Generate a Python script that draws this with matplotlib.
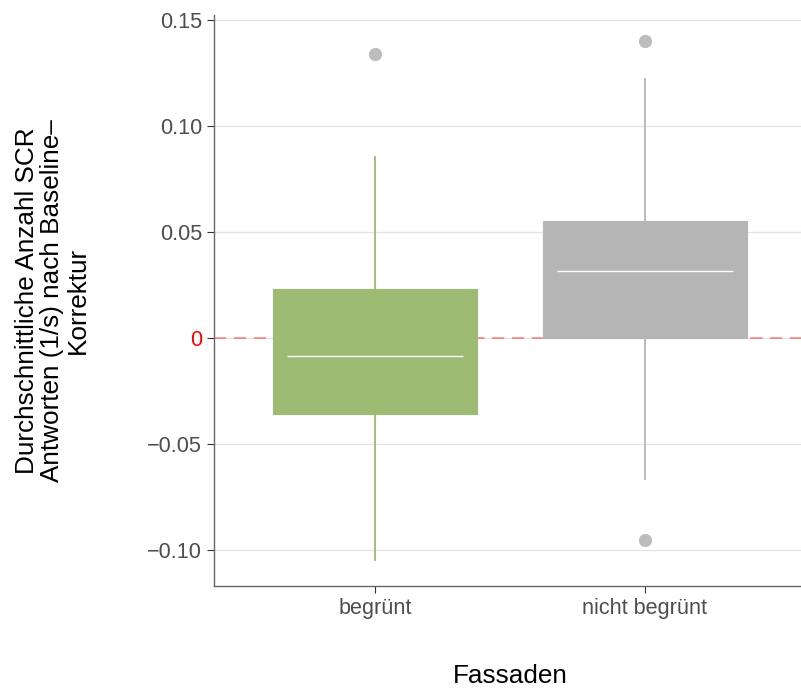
import numpy as np
import matplotlib
matplotlib.use("Agg")
from matplotlib import pyplot as plt

plt.rcParams['font.family'] = ['Liberation Sans', 'DejaVu Sans']

# box statistics per facade type
groups = ['begrünt', 'nicht begrünt']
q1 = [-0.0358, 0.0]
med = [-0.0088, 0.0317]
q3 = [0.0228, 0.0553]
whislo = [-0.105, -0.0665]
whishi = [0.0852, 0.122]
fliers = [[0.134], [0.1399, -0.0953]]
fills = ['#9DBB72', '#B5B5B5']

yticks = [-0.10, -0.05, 0, 0.05, 0.10, 0.15]
ytick_labels = ['\u22120.10', '\u22120.05', '0', '0.05', '0.10', '0.15']

fig = plt.figure(figsize=(8.01, 6.90), dpi=100)
ax = fig.add_axes([214 / 801, 1 - 586 / 690, 592 / 801, 571 / 690])

pos = np.arange(1, len(groups) + 1)

ax.axhline(0, color='red', alpha=0.5, lw=1.1, ls=(0, (8, 5)), zorder=1)

for i in range(len(groups)):
    st = [dict(q1=q1[i], med=med[i], q3=q3[i], whislo=whislo[i],
               whishi=whishi[i], fliers=fliers[i])]
    ax.bxp(st, positions=[pos[i]], widths=0.758, patch_artist=True,
           showcaps=False, manage_ticks=False,
           boxprops=dict(facecolor=fills[i], edgecolor=fills[i], lw=0.8),
           whiskerprops=dict(color=fills[i], lw=1.3),
           medianprops=dict(linestyle='none'),
           flierprops=dict(marker='o', markersize=8.5, markerfacecolor='#BDBDBD',
                           markeredgecolor='#BDBDBD'),
           zorder=3)
    ax.hlines(med[i], pos[i] - 0.327, pos[i] + 0.327, color='white', lw=1.0, zorder=4)

ax.set_xlim(0.4, 2.6)
ax.set_ylim(-0.1172, 0.1524)
ax.set_xticks(pos)
ax.set_xticklabels(groups)
ax.set_yticks(yticks)
ax.set_yticklabels(ytick_labels)

ax.yaxis.grid(True, color='#E3E3E3', lw=0.9)
ax.set_axisbelow(True)
for s in ['top', 'right']:
    ax.spines[s].set_visible(False)
for s in ['left', 'bottom']:
    ax.spines[s].set_color('#666666')
    ax.spines[s].set_linewidth(1.0)
ax.tick_params(axis='both', colors='#333333', labelsize=15.6, length=5, width=0.8)
for lab in ax.get_xticklabels() + ax.get_yticklabels():
    lab.set_color('red' if lab.get_text() == '0' else '#4D4D4D')

ax.set_xlabel('Fassaden', fontsize=18.8)
ax.xaxis.set_label_coords(0.5, -0.137)
ax.set_ylabel('Durchschnittliche Anzahl SCR\nAntworten (1/s) nach Baseline\u2013\nKorrektur',
              fontsize=18.8, linespacing=1.08)
ax.yaxis.set_label_coords(-0.21, 0.5)

fig.savefig('out.png', dpi=100)
